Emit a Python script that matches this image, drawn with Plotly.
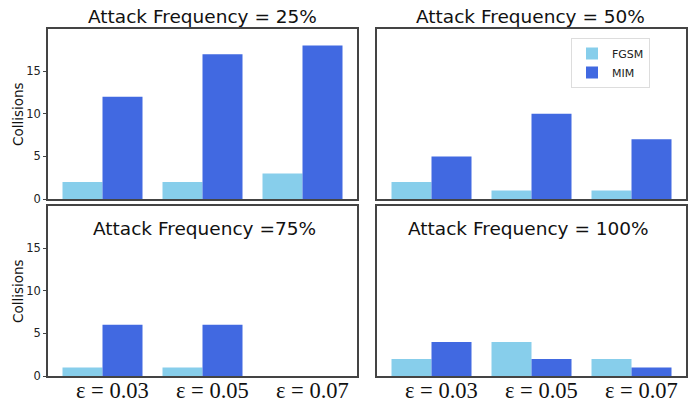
import plotly.graph_objects as go

categories = ["ε = 0.03", "ε = 0.05", "ε = 0.07"]
panel_titles = ["Attack Frequency = 25%", "Attack Frequency = 50%",
                "Attack Frequency =75%", "Attack Frequency = 100%"]
fgsm_25 = [2, 2, 3]
mim_25 = [12, 17, 18]
fgsm_50 = [2, 1, 1]
mim_50 = [5, 10, 7]
fgsm_75 = [1, 1, 0]
mim_75 = [6, 6, 0]
fgsm_100 = [2, 4, 2]
mim_100 = [4, 2, 1]
y_ticks = [0, 5, 10, 15]
y_title = "Collisions"

W, H = 697, 402
FGSM_C = "#87CEEB"
MIM_C = "#4169E1"

def px_x(a, b):
    return [a / W, b / W]

def px_y(top, bot):
    return [1 - bot / H, 1 - top / H]

dom_x = [px_x(48, 357), px_x(377, 686)]
dom_y = [px_y(29, 199), px_y(206, 376)]

fig = go.Figure()
panels = [(fgsm_25, mim_25), (fgsm_50, mim_50), (fgsm_75, mim_75), (fgsm_100, mim_100)]
for i, (f, m) in enumerate(panels):
    idx = "" if i == 0 else str(i + 1)
    xa, ya = "x" + idx, "y" + idx
    fig.add_trace(go.Bar(x=categories, y=f, name="FGSM", marker_color=FGSM_C,
                         marker_line_width=0, xaxis=xa, yaxis=ya,
                         showlegend=(i == 1), legendgroup="FGSM"))
    fig.add_trace(go.Bar(x=categories, y=m, name="MIM", marker_color=MIM_C,
                         marker_line_width=0, xaxis=xa, yaxis=ya,
                         showlegend=(i == 1), legendgroup="MIM"))

layout = dict(
    width=W, height=H, margin=dict(l=0, r=0, t=0, b=0, autoexpand=False),
    paper_bgcolor="white", plot_bgcolor="white",
    barmode="group", bargap=0.2, bargroupgap=0,
    font=dict(family="DejaVu Sans", color="#222"),
    legend=dict(x=571 / W, y=1 - 38 / H, xanchor="left", yanchor="top",
                bgcolor="rgba(255,255,255,0.9)", bordercolor="#dddddd", borderwidth=1,
                font=dict(size=11, color="#222"), tracegroupgap=0, itemwidth=30),
)
for i in range(4):
    r, c = divmod(i, 2)
    idx = "" if i == 0 else str(i + 1)
    left = c == 0
    layout["xaxis" + idx] = dict(
        domain=dom_x[c], anchor="y" + idx, type="category", automargin=False,
        range=[-0.545, 2.545], showgrid=False,
        showline=True, mirror=True, linecolor="#444", linewidth=1.5,
        showticklabels=False, ticks="",
    )
    layout["yaxis" + idx] = dict(
        domain=dom_y[r], anchor="x" + idx, range=[0, 19.95], automargin=False,
        showgrid=False, zeroline=False,
        showline=True, mirror=True, linecolor="#444", linewidth=1.5,
        tickvals=y_ticks, showticklabels=left,
        ticks="outside" if left else "", ticklen=3, tickcolor="#444",
        tickfont=dict(size=11.5, color="#222"),
    )
fig.update_layout(**layout)

# x category labels under the bottom panels (placed on the category axes)
for xa in ["x3", "x4"]:
    for cat in categories:
        fig.add_annotation(text=cat, x=cat, xref=xa, y=1 - 390 / H, yref="paper",
                           xanchor="center", yanchor="middle", xshift=10, showarrow=False,
                           font=dict(family="Liberation Serif", size=22.5, color="#111"))

# y-axis titles
for r in range(2):
    fig.add_annotation(text=y_title, x=18 / W, xref="paper",
                       y=sum(dom_y[r]) / 2, yref="paper", textangle=-90,
                       xanchor="center", yanchor="middle", showarrow=False,
                       font=dict(size=13.5, color="#111"))

title_pos = [(202, 17), (530, 17), (204, 228), (528, 228)]
for t, (x, y) in zip(panel_titles, title_pos):
    fig.add_annotation(text=t, x=x / W, y=1 - y / H, xref="paper", yref="paper",
                       xanchor="center", yanchor="middle", showarrow=False,
                       font=dict(size=18.5, family="DejaVu Sans", color="#111"))

fig.write_html("out.html", config={"displayModeBar": False},
               post_script="document.body.style.margin='0';document.body.style.overflow='hidden';")
